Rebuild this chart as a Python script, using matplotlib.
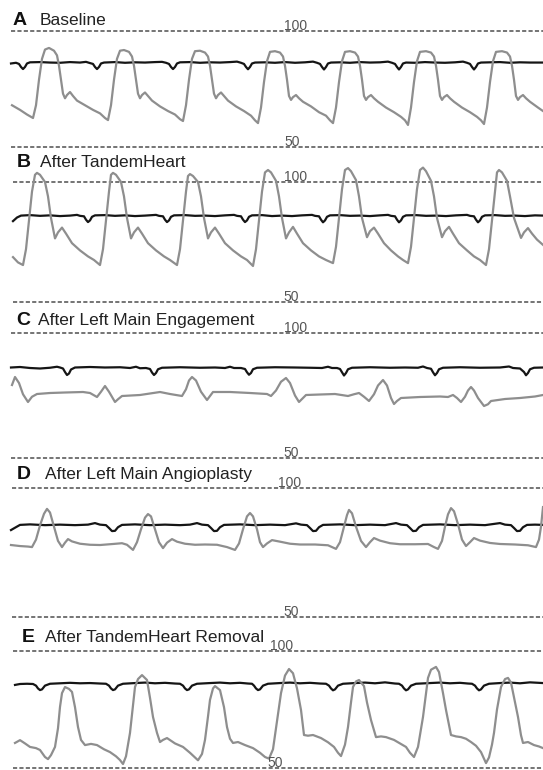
import matplotlib
matplotlib.use('Agg')
import matplotlib.pyplot as plt

plt.rcParams['font.family'] = ['Liberation Sans', 'DejaVu Sans']

# Panel titles
letters = ['A', 'B', 'C', 'D', 'E']
titles = ['Baseline', 'After TandemHeart', 'After Left Main Engagement',
          'After Left Main Angioplasty', 'After TandemHeart Removal']

# Pressure traces: (time in ms, pressure in mmHg)
gray_a = [(120, 68), (200, 66), (270, 64), (330, 62.5),
          (360, 68), (390, 79), (420, 88), (450, 92), (490, 92.7), (540, 91.5), (570, 89.5), (590, 85), (610, 79),
          (630, 73), (650, 71), (670, 72.4), (700, 73.7), (730, 72), (770, 70), (850, 68), (930, 66), (1000, 64.5),
          (1050, 62.5), (1080, 61.6),
          (1110, 68), (1140, 79), (1170, 88), (1200, 91.5), (1240, 91.8), (1290, 91), (1320, 89), (1340, 85),
          (1360, 79), (1380, 73), (1400, 71), (1420, 72.4), (1450, 73.5), (1480, 72), (1520, 70), (1600, 67.5),
          (1680, 65.5), (1750, 64), (1800, 62), (1830, 61.2),
          (1860, 68), (1890, 79), (1920, 88), (1950, 91.3), (2000, 91.5), (2050, 90.7), (2080, 89), (2100, 85),
          (2120, 79), (2140, 73), (2160, 71), (2180, 72.4), (2210, 73.5), (2240, 72), (2280, 70), (2360, 67.5),
          (2440, 65.5), (2510, 63.5), (2550, 61.5), (2580, 60.3),
          (2610, 67), (2640, 78), (2670, 87), (2700, 91), (2750, 91.3), (2800, 90.7), (2830, 89), (2850, 85),
          (2870, 79), (2890, 72), (2910, 70.3), (2930, 71.5), (2960, 72.4), (2990, 71), (3030, 69.5), (3110, 67.5),
          (3190, 65), (3260, 63.5), (3300, 61.5), (3330, 60.3),
          (3360, 67), (3390, 78), (3420, 87), (3450, 91), (3500, 91.3), (3550, 90.7), (3580, 89), (3600, 85),
          (3620, 79), (3640, 72), (3660, 70.3), (3680, 71.5), (3710, 72.4), (3740, 71), (3780, 69.5), (3860, 67),
          (3940, 65), (4010, 63), (4050, 61.5), (4080, 59.5),
          (4110, 67), (4140, 78), (4170, 87), (4200, 91), (4260, 91.3), (4310, 90.7), (4340, 89), (4360, 85),
          (4380, 79), (4400, 72), (4420, 70.3), (4440, 71.5), (4470, 72.4), (4500, 71), (4540, 69.5), (4620, 67),
          (4700, 65), (4770, 63), (4810, 61.5), (4840, 59.9),
          (4870, 67), (4900, 78), (4930, 87), (4960, 91), (5020, 91.3), (5070, 90.7), (5100, 89), (5120, 85),
          (5140, 79), (5160, 72), (5180, 70.3), (5200, 71.5), (5230, 72.4), (5260, 71), (5300, 69.5), (5380, 67),
          (5430, 65.5)]

black_a = [(110, 86.0), (160, 86.3), (190, 85.8), (210, 84.5), (230, 83.6), (250, 84.5), (270, 86), (300, 86.5),
           (400, 86.6), (500, 86.4), (600, 86.3), (700, 86.6), (800, 86.4), (860, 86.7), (890, 86.3), (930, 85.8),
           (950, 84.5), (970, 83.6), (990, 84.5), (1010, 86), (1040, 86.4), (1150, 86.6), (1250, 86.3),
           (1350, 86.5), (1450, 86.4), (1550, 86.6), (1620, 86.7), (1660, 86.3), (1690, 85.8), (1710, 84.5),
           (1730, 83.6), (1750, 84.5), (1770, 86), (1800, 86.5), (1900, 86.6), (2000, 86.3), (2100, 86.5),
           (2200, 86.4), (2300, 86.6), (2370, 86.8), (2410, 86.3), (2440, 85.8), (2460, 84.5), (2480, 83.5),
           (2500, 84.5), (2520, 86), (2550, 86.4), (2650, 86.5), (2750, 86.3), (2850, 86.6), (2950, 86.3),
           (3050, 86.5), (3130, 86.8), (3170, 86.3), (3200, 85.8), (3220, 84.5), (3240, 83.4), (3260, 84.5),
           (3280, 86), (3310, 86.4), (3400, 86.5), (3500, 86.3), (3600, 86.6), (3700, 86.4), (3800, 86.5),
           (3880, 86.8), (3920, 86.3), (3950, 85.8), (3970, 84.5), (3990, 83.4), (4010, 84.5), (4030, 86),
           (4060, 86.4), (4150, 86.3), (4250, 86.6), (4350, 86.4), (4450, 86.3), (4550, 86.5), (4630, 86.8),
           (4670, 86.3), (4700, 85.8), (4720, 84.5), (4740, 83.4), (4760, 84.5), (4780, 86), (4810, 86.4),
           (4900, 86.5), (5000, 86.6), (5100, 86.3), (5200, 86.5), (5300, 86.4), (5430, 86.4)]

gray_b = [(130, 68.7), (180, 66.5), (230, 65.4),
          (260, 72), (290, 84), (320, 96), (350, 103), (370, 103.8), (400, 103), (450, 100), (480, 94), (510, 85),
          (550, 76.5), (580, 79), (620, 81), (660, 78.5), (720, 74.5), (800, 71.5), (880, 69), (940, 67.5),
          (1000, 65.4),
          (1030, 72), (1060, 84), (1090, 96), (1110, 103), (1130, 103.8), (1160, 103), (1210, 100), (1240, 94),
          (1270, 85), (1310, 76.5), (1340, 79), (1380, 81), (1420, 78.5), (1480, 74.5), (1560, 71.5), (1640, 69),
          (1700, 67.5), (1770, 65.4),
          (1800, 72), (1830, 84), (1860, 96), (1880, 102.5), (1900, 103.3), (1930, 102.5), (1980, 100),
          (2010, 94), (2040, 85), (2080, 76.5), (2110, 79), (2150, 81), (2190, 78.5), (2250, 74.5), (2330, 71.5),
          (2410, 69), (2470, 67.5), (2530, 65),
          (2560, 72), (2590, 84), (2620, 96), (2650, 104), (2680, 105), (2710, 104), (2760, 100.5), (2790, 94),
          (2820, 85), (2860, 76.5), (2890, 79), (2930, 81.3), (2970, 78.5), (3030, 74.5), (3110, 71.5),
          (3190, 69), (3260, 67.5), (3330, 66.2),
          (3360, 73), (3390, 85), (3420, 97), (3450, 105), (3480, 105.8), (3510, 104.5), (3560, 100.8),
          (3590, 94), (3620, 85), (3670, 77), (3700, 79.5), (3740, 81), (3780, 78.5), (3840, 74.5), (3910, 71.5),
          (3980, 69), (4030, 67.5), (4080, 66.2),
          (4110, 73), (4140, 85), (4170, 97), (4200, 105), (4230, 106), (4260, 104.5), (4310, 100.5), (4340, 94),
          (4370, 85), (4420, 77), (4450, 79.5), (4490, 81.3), (4530, 78.5), (4590, 74.5), (4670, 71.5),
          (4740, 69), (4800, 67.5), (4860, 65.4),
          (4890, 72), (4920, 84), (4950, 96), (4970, 104), (4990, 105), (5020, 104), (5070, 100.5), (5100, 94),
          (5140, 85), (5210, 76.7), (5240, 79), (5280, 80.8), (5320, 78.5), (5370, 76), (5430, 73.8)]

black_b = [(130, 83.7), (170, 85.2), (210, 86), (300, 86.2), (400, 85.9), (500, 86.1), (600, 85.8), (700, 86),
           (770, 86.3), (800, 85.9), (840, 85.7), (860, 84.3), (880, 83.3), (900, 84), (920, 85.5), (950, 86.1),
           (1050, 86.2), (1150, 85.9), (1250, 86.1), (1350, 85.8), (1450, 86), (1560, 86.3), (1590, 85.9),
           (1630, 85.7), (1650, 84.3), (1670, 83.3), (1690, 84), (1710, 85.5), (1740, 86.1), (1850, 86.2),
           (1950, 85.9), (2050, 86), (2150, 85.8), (2250, 86.1), (2340, 86.3), (2370, 85.9), (2410, 85.7),
           (2430, 84.3), (2450, 83.3), (2470, 84), (2490, 85.5), (2520, 86.1), (2620, 86.2), (2720, 85.8),
           (2820, 86), (2920, 85.8), (3020, 86.1), (3120, 86.3), (3150, 85.9), (3190, 85.7), (3210, 84.3),
           (3230, 83.2), (3250, 84), (3270, 85.5), (3300, 86.1), (3400, 86.2), (3500, 85.9), (3600, 86),
           (3700, 85.8), (3800, 86.1), (3880, 86.3), (3910, 85.9), (3950, 85.7), (3970, 84.3), (3990, 83.2),
           (4010, 84), (4030, 85.5), (4060, 86.1), (4160, 86.2), (4260, 85.9), (4360, 86), (4460, 85.8),
           (4560, 86.1), (4670, 86.3), (4700, 85.9), (4740, 85.7), (4760, 84.3), (4780, 83.2), (4800, 84),
           (4820, 85.5), (4850, 86.1), (4950, 86.2), (5050, 85.9), (5150, 86), (5250, 85.8), (5350, 86.1),
           (5430, 86)]

gray_c = [(120, 79.2), (150, 82.4), (190, 80), (230, 75.5), (280, 72.4), (320, 74.5), (370, 75.6), (500, 76),
          (650, 76.2), (830, 76.4), (900, 76), (970, 74.4), (1010, 76.5), (1050, 78.8), (1090, 76.5), (1150, 72.4),
          (1180, 73.5), (1220, 74.8), (1400, 75.2), (1600, 76.4), (1700, 75.6), (1820, 74.8), (1860, 77.5),
          (1890, 81), (1920, 82.4), (1960, 81), (2010, 76.5), (2070, 73.2), (2100, 74.8), (2130, 76.4),
          (2300, 76.4), (2500, 76), (2670, 75.6), (2710, 74.8), (2760, 77), (2810, 80.5), (2860, 82), (2900, 80),
          (2950, 75), (2990, 72.4), (3030, 74), (3060, 75.2), (3200, 75.4), (3350, 75.6), (3480, 74.8),
          (3540, 75.5), (3590, 76), (3640, 74.5), (3690, 72.8), (3740, 75.5), (3780, 79), (3830, 81.2),
          (3870, 79), (3910, 74), (3940, 71.6), (3970, 72.8), (4010, 74), (4200, 74.4), (4400, 74.6),
          (4480, 74.4), (4530, 75.2), (4570, 74), (4610, 72.4), (4650, 74.5), (4680, 77), (4710, 78.4),
          (4740, 77), (4780, 74), (4840, 70.8), (4880, 71.5), (4910, 72.8), (5050, 73.6), (5200, 74),
          (5350, 74.6), (5430, 75.2)]

black_c = [(110, 86.2), (200, 86.4), (300, 86), (400, 85.8), (500, 86.1), (570, 86.5), (600, 86.2), (630, 85.8),
           (650, 84.4), (670, 83.2), (690, 83.8), (710, 85.4), (750, 86.2), (900, 86.4), (1050, 86.2),
           (1200, 86.3), (1300, 86), (1360, 86.5), (1400, 85.9), (1460, 86), (1500, 85.6), (1520, 84.2),
           (1540, 83.2), (1560, 84), (1580, 85.5), (1620, 86.1), (1800, 86.3), (2000, 86.1), (2150, 86.2),
           (2250, 86), (2300, 86.5), (2340, 86), (2410, 86), (2450, 85.6), (2470, 84.3), (2490, 83.3),
           (2510, 84), (2530, 85.5), (2570, 86.1), (2750, 86.3), (2950, 86.2), (3100, 86.1), (3220, 86),
           (3280, 86.5), (3320, 86), (3370, 86), (3400, 85.6), (3420, 84.3), (3440, 83), (3460, 84), (3480, 85.5),
           (3520, 86.1), (3700, 86.3), (3900, 86.1), (4050, 86.2), (4180, 86.1), (4230, 86.6), (4270, 86),
           (4310, 85.7), (4330, 84.3), (4350, 83.1), (4370, 84), (4390, 85.5), (4430, 86.1), (4600, 86.3),
           (4800, 86.1), (5000, 86.2), (5090, 86.6), (5130, 86), (5200, 85.8), (5240, 84.4), (5260, 83.1),
           (5280, 84), (5300, 85.5), (5340, 86.1), (5430, 86.2)]

gray_d = [(110, 77.9), (200, 77.5), (280, 77.3), (320, 77.1), (360, 80), (400, 85.5), (440, 90), (470, 91.9),
          (500, 90.5), (540, 85), (580, 79.5), (620, 77.1), (650, 78.8), (680, 80.2), (720, 79.3), (800, 78.4),
          (900, 78), (1000, 77.9), (1130, 78.3), (1220, 78.6), (1270, 78), (1300, 77), (1330, 76), (1370, 79),
          (1410, 84), (1450, 88.5), (1480, 89.9), (1510, 89), (1550, 84), (1590, 79), (1630, 76.7), (1670, 78.8),
          (1720, 80.2), (1770, 79.2), (1850, 78.4), (1950, 78), (2050, 78.1), (2170, 78), (2270, 77.1),
          (2350, 76), (2390, 78.5), (2430, 84), (2470, 89), (2500, 90.3), (2530, 89), (2570, 84), (2600, 79),
          (2630, 77.1), (2670, 78.5), (2720, 79.8), (2800, 79.2), (2900, 78.4), (3000, 78.1), (3150, 78.1),
          (3280, 77.8), (3360, 76.4), (3400, 79), (3440, 85), (3470, 89.5), (3490, 91.5), (3520, 90.2),
          (3560, 85), (3610, 79.5), (3660, 77.1), (3700, 79), (3740, 80.6), (3800, 79.6), (3900, 78.6),
          (4000, 78.2), (4150, 78.2), (4280, 78.3), (4340, 77.1), (4380, 76.4), (4420, 79.5), (4450, 85),
          (4480, 89.8), (4510, 92.2), (4540, 91), (4580, 86), (4620, 80), (4660, 77.5), (4700, 79),
          (4740, 80.6), (4800, 79.6), (4900, 78.7), (5000, 78.3), (5150, 78.1), (5280, 77.8), (5360, 77.1),
          (5390, 80), (5410, 85), (5430, 92.6)]

black_d = [(110, 83.7), (150, 84.6), (200, 85.7), (300, 85.9), (450, 85.6), (600, 85.8), (750, 85.6),
           (880, 85.8), (950, 86.4), (1000, 85.8), (1060, 85.6), (1090, 84.5), (1120, 83.3), (1150, 83.4),
           (1180, 84.8), (1220, 85.7), (1350, 85.9), (1500, 85.6), (1650, 85.8), (1800, 85.6), (1900, 85.8),
           (1970, 86.4), (2020, 85.8), (2080, 85.6), (2110, 84.5), (2140, 83.3), (2170, 83.4), (2200, 84.8),
           (2240, 85.7), (2400, 85.9), (2550, 85.6), (2700, 85.8), (2850, 85.6), (2960, 86.3), (3010, 85.8),
           (3070, 85.6), (3100, 84.5), (3130, 83.3), (3160, 83.4), (3190, 84.8), (3230, 85.7), (3400, 85.9),
           (3550, 85.6), (3700, 85.8), (3850, 85.6), (3960, 86.4), (4010, 85.8), (4070, 85.6), (4100, 84.5),
           (4130, 83.3), (4160, 83.4), (4190, 84.8), (4230, 85.7), (4400, 85.9), (4550, 85.6), (4700, 85.8),
           (4850, 85.6), (5000, 86.4), (5050, 85.8), (5110, 85.6), (5140, 84.5), (5170, 83.3), (5200, 83.4),
           (5230, 84.8), (5270, 85.7), (5350, 85.8), (5430, 85.7)]

gray_e = [(150, 60.7), (200, 61.9), (250, 60.5), (300, 59), (360, 58.5), (400, 57.7), (450, 54.7), (480, 53.8),
          (510, 55.5), (550, 59), (580, 67), (600, 76.1), (620, 82), (650, 84.6), (690, 83.8), (720, 82.5),
          (750, 76), (780, 67.5), (810, 62), (850, 59.8), (910, 60.3), (970, 59.8), (1040, 58), (1100, 56.8),
          (1160, 55), (1200, 53.4), (1230, 51.7), (1260, 55), (1300, 65), (1330, 77), (1350, 84.6), (1380, 88),
          (1420, 89.7), (1470, 87.6), (1500, 80), (1530, 71.8), (1570, 65), (1600, 61.1), (1630, 62),
          (1670, 62.8), (1750, 60.5), (1830, 59), (1900, 56.5), (1950, 54.5), (1980, 53.3), (2020, 56),
          (2050, 62), (2080, 72), (2100, 79.1), (2130, 84), (2150, 85), (2200, 83.3), (2240, 76), (2270, 67.5),
          (2300, 62.5), (2330, 60.7), (2380, 61.1), (2450, 59.8), (2530, 58.5), (2600, 56.5), (2650, 54.7),
          (2690, 54), (2730, 58), (2770, 70), (2810, 82), (2850, 89.5), (2890, 92.3), (2930, 90.5), (2970, 84),
          (3010, 74.8), (3040, 64.1), (3080, 63.8), (3130, 64.1), (3210, 62.8), (3280, 61), (3340, 59),
          (3380, 56.5), (3410, 55.1), (3450, 60), (3480, 67.5), (3510, 78), (3530, 84.6), (3560, 87),
          (3590, 87.6), (3640, 85), (3670, 78), (3710, 70.5), (3760, 63.2), (3810, 63.5), (3860, 63.2),
          (3940, 62), (4000, 60.5), (4060, 59), (4100, 56.5), (4140, 54.7), (4180, 59), (4230, 71.8),
          (4260, 82), (4280, 88.5), (4310, 92), (4360, 93.2), (4390, 91), (4430, 82), (4460, 74.8), (4510, 64.1),
          (4560, 63.5), (4610, 63.2), (4660, 62.5), (4710, 61.1), (4760, 59.5), (4810, 56.8), (4840, 54),
          (4860, 52.1), (4890, 54.5), (4920, 60), (4940, 65), (4970, 75), (5010, 84.6), (5050, 88), (5080, 88.5),
          (5110, 86.5), (5150, 78), (5180, 71.8), (5210, 64), (5230, 60.7), (5280, 61.1), (5340, 59.8),
          (5390, 59.2), (5430, 58.5)]

black_e = [(150, 85.5), (200, 85.9), (270, 86), (330, 85.9), (360, 85.2), (380, 84), (400, 83.3), (420, 83.6),
           (450, 85.2), (500, 86), (600, 86.2), (700, 86.4), (800, 86.2), (900, 86.3), (1000, 86.1), (1060, 86),
           (1090, 85.2), (1110, 84), (1130, 83.3), (1150, 83.6), (1180, 85.2), (1230, 86), (1350, 86.3),
           (1450, 86.5), (1550, 86.2), (1650, 86.4), (1750, 86.1), (1800, 86), (1830, 85.2), (1850, 84),
           (1870, 83.3), (1890, 83.6), (1920, 85.2), (1970, 86), (2100, 86.3), (2200, 86.5), (2300, 86.2),
           (2400, 86.4), (2480, 86.1), (2520, 86), (2540, 85.2), (2560, 84), (2580, 83.3), (2600, 83.6),
           (2630, 85.2), (2680, 86), (2800, 86.3), (2900, 86.5), (3000, 86.2), (3100, 86.4), (3200, 86.1),
           (3260, 86), (3290, 85.2), (3310, 84), (3330, 83.2), (3350, 83.6), (3380, 85.2), (3430, 86),
           (3550, 86.3), (3650, 86.5), (3750, 86.2), (3850, 86.6), (3950, 86.1), (3990, 86), (4020, 85.2),
           (4040, 84), (4060, 83.2), (4080, 83.6), (4110, 85.2), (4160, 86), (4300, 86.3), (4400, 86.5),
           (4500, 86.2), (4600, 86.4), (4680, 86.1), (4720, 86), (4750, 85.2), (4770, 84), (4790, 83.2),
           (4810, 83.6), (4840, 85.2), (4890, 86), (5000, 86.3), (5100, 86.5), (5200, 86.2), (5300, 86.6),
           (5430, 86.3)]

grays = [gray_a, gray_b, gray_c, gray_d, gray_e]
blacks = [black_a, black_b, black_c, black_d, black_e]

W, H = 543, 770
# pixel rows of the 100 and 50 mmHg lines, dashed line start, label positions
rows = [(31, 147), (182, 302), (333, 458), (488, 617), (651, 768)]
dash_x0 = [11, 13, 11, 12, 13]
lbl100_x = [284, 284, 284, 278, 270]
lbl50_x = [284, 283, 283, 283, 267]
letter_pos = [(13, 25), (17, 167), (16, 325), (17, 479), (22, 642)]
title_x = [40, 40, 38, 45, 45]

fig = plt.figure(figsize=(W / 100, H / 100), dpi=100)
dash_col = '#555555'

for i in range(5):
    y100, y50 = rows[i]
    ax = fig.add_axes([0, 1 - y50 / H, 1, (y50 - y100) / H])
    ax.set_xlim(0, W * 10)
    ax.set_ylim(50, 100)
    ax.axis('off')

    for lvl in (100, 50):
        ax.plot([dash_x0[i] * 10, W * 10], [lvl, lvl], color=dash_col, lw=1.15,
                linestyle=(0, (2.6, 1.4)), clip_on=False)
    ax.text(lbl100_x[i] * 10, 100.5, '100', fontsize=10, color=dash_col, va='baseline')
    ax.text(lbl50_x[i] * 10, 50.5, '50', fontsize=10, color=dash_col, va='baseline')

    t, p = zip(*blacks[i])
    ax.plot(t, p, color='#151515', lw=1.6, clip_on=False, solid_joinstyle='round')
    t, p = zip(*grays[i])
    ax.plot(t, p, color='#8e8e8e', lw=1.6, clip_on=False, solid_joinstyle='round')

    lx, ly = letter_pos[i]
    fig.text(lx / W, 1 - ly / H, letters[i], fontsize=14, fontweight='bold',
             color='#111111', va='baseline')
    fig.text(title_x[i] / W, 1 - ly / H, titles[i], fontsize=12.5, color='#222222',
             va='baseline')

fig.savefig('out.png', dpi=100)
